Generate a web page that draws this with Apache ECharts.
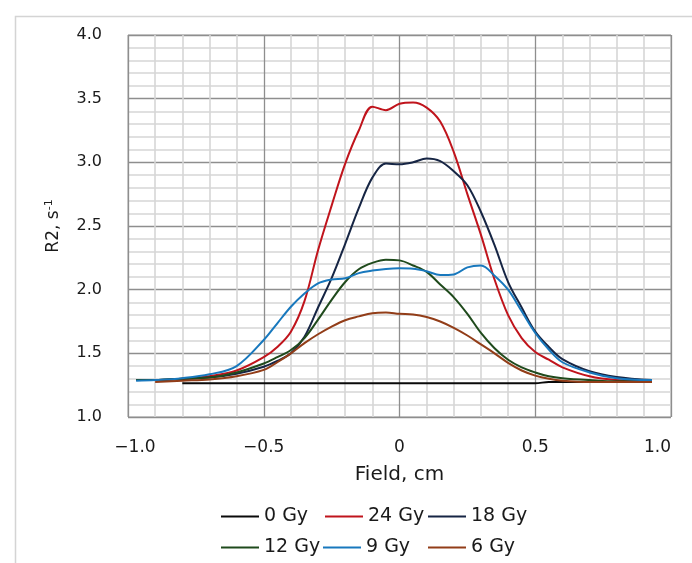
<!DOCTYPE html>
<html>
<head>
<meta charset="utf-8">
<script src="https://cdn.jsdelivr.net/npm/echarts@6/dist/echarts.min.js"></script>
<style>html,body{margin:0;padding:0;background:#fff;}#c{width:692px;height:563px;}</style>
</head>
<body>
<div id="c"></div>
<script>
// Field positions (cm)
var xs = [-0.97, -0.9, -0.8, -0.7, -0.6, -0.5, -0.45, -0.4, -0.35, -0.3, -0.25, -0.2, -0.15, -0.1, -0.05, 0, 0.05, 0.1, 0.15, 0.2, 0.25, 0.3, 0.35, 0.4, 0.45, 0.5, 0.55, 0.6, 0.7, 0.8, 0.93];
// R2 values (s^-1) per dose
var gy0  = [null, null, 1.265, 1.265, 1.265, 1.265, 1.265, 1.265, 1.265, 1.265, 1.265, 1.265, 1.265, 1.265, 1.265, 1.265, 1.265, 1.265, 1.265, 1.265, 1.265, 1.265, 1.265, 1.265, 1.265, 1.265, 1.275, 1.275, 1.275, 1.275, 1.28];
var gy24 = [1.29, 1.29, 1.30, 1.32, 1.365, 1.47, 1.55, 1.67, 1.91, 2.31, 2.66, 2.99, 3.25, 3.437, 3.41, 3.46, 3.47, 3.43, 3.32, 3.08, 2.75, 2.43, 2.08, 1.80, 1.62, 1.51, 1.45, 1.39, 1.32, 1.29, 1.28];
var gy18 = [1.29, 1.29, 1.30, 1.31, 1.34, 1.395, 1.44, 1.50, 1.63, 1.86, 2.09, 2.36, 2.64, 2.88, 2.99, 2.985, 3.00, 3.03, 3.01, 2.93, 2.82, 2.61, 2.35, 2.06, 1.86, 1.67, 1.55, 1.455, 1.36, 1.315, 1.29];
var gy12 = [1.29, 1.29, 1.30, 1.31, 1.35, 1.42, 1.47, 1.526, 1.62, 1.765, 1.92, 2.06, 2.16, 2.21, 2.235, 2.23, 2.19, 2.14, 2.04, 1.94, 1.81, 1.66, 1.54, 1.45, 1.39, 1.35, 1.32, 1.305, 1.29, 1.28, 1.28];
var gy9  = [1.285, 1.29, 1.305, 1.335, 1.40, 1.605, 1.736, 1.866, 1.97, 2.05, 2.08, 2.09, 2.13, 2.15, 2.163, 2.168, 2.165, 2.145, 2.115, 2.12, 2.175, 2.19, 2.11, 2.0, 1.83, 1.66, 1.53, 1.43, 1.35, 1.305, 1.29];
var gy6  = [null, 1.275, 1.285, 1.295, 1.32, 1.37, 1.43, 1.50, 1.58, 1.65, 1.71, 1.76, 1.79, 1.815, 1.82, 1.81, 1.805, 1.785, 1.75, 1.70, 1.64, 1.57, 1.50, 1.425, 1.365, 1.325, 1.30, 1.285, 1.275, 1.275, 1.275];

var seriesNames = ['0 Gy', '24 Gy', '18 Gy', '12 Gy', '9 Gy', '6 Gy'];
var seriesValues = [gy0, gy24, gy18, gy12, gy9, gy6];
var seriesColors = ['#0a0a0a', '#c0141c', '#162544', '#1f4a1c', '#1878bd', '#923d18'];

var xTicks = [-1.0, -0.5, 0, 0.5, 1.0];
var yTicks = [1.0, 1.5, 2.0, 2.5, 3.0, 3.5, 4.0];

// legend layout (two rows, three columns)
var legendLayout = [
  {left: 221, top: 507}, {left: 325, top: 507}, {left: 428, top: 507},
  {left: 221, top: 538}, {left: 323, top: 538}, {left: 428, top: 538}
];
var legendOrder = ['0 Gy', '24 Gy', '18 Gy', '12 Gy', '9 Gy', '6 Gy'];

var FONT = 'DejaVu Sans';

function pairs(vals) {
  var out = [];
  for (var i = 0; i < xs.length; i++) {
    if (vals[i] !== null) out.push([xs[i], vals[i]]);
  }
  return out;
}

var series = seriesNames.map(function (n, i) {
  return {
    name: n,
    type: 'line',
    data: pairs(seriesValues[i]),
    showSymbol: false,
    smooth: 0.35,
    lineStyle: {width: 2, color: seriesColors[i]},
    itemStyle: {color: seriesColors[i]},
    emphasis: {disabled: true},
    z: 2 + i
  };
});

var legends = legendOrder.map(function (n, i) {
  return {
    data: [n],
    left: legendLayout[i].left,
    top: legendLayout[i].top,
    padding: 0,
    icon: 'rect',
    itemWidth: 38,
    itemHeight: 2,
    selectedMode: false,
    textStyle: {fontFamily: FONT, fontSize: 19, color: '#1a1a1a'}
  };
});

var chart = echarts.init(document.getElementById('c'), null, {renderer: 'canvas'});
chart.setOption({
  animation: false,
  backgroundColor: '#fff',
  graphic: [{
    type: 'rect', left: 13, top: 14,
    shape: {width: 720, height: 600},
    style: {fill: 'none', stroke: '#d4d4d4', lineWidth: 1.5},
    silent: true, z: 0
  }],
  grid: {left: 128, right: 21, top: 35, bottom: 146, show: true, borderColor: '#a0a0a0', borderWidth: 1},
  legend: legends,
  xAxis: {
    type: 'value', min: xTicks[0], max: xTicks[xTicks.length - 1], interval: 0.5,
    name: 'Field, cm', nameLocation: 'middle', nameGap: 48,
    nameTextStyle: {fontFamily: FONT, fontSize: 20, color: '#1a1a1a'},
    axisLine: {show: false}, axisTick: {show: false},
    axisLabel: {
      fontFamily: FONT, fontSize: 17, color: '#1a1a1a', margin: 22,
      alignMaxLabel: 'right',
      formatter: function (v) {
        if (v === 0) return '0';
        var s = v.toFixed(1).replace('-', '\u2212');
        if (v === xTicks[0]) return '{m|' + s + '}';
        return s;
      },
      rich: {m: {fontFamily: FONT, fontSize: 17, color: '#1a1a1a', padding: [0, 0, 0, 14]}}
    },
    splitLine: {show: true, lineStyle: {color: '#8e8e8e', width: 1.3}},
    minorTick: {show: false, splitNumber: 5},
    minorSplitLine: {show: true, lineStyle: {color: '#d6d6d6', width: 1.6}}
  },
  yAxis: {
    type: 'value', min: yTicks[0], max: yTicks[yTicks.length - 1], interval: 0.5,
    name: 'R2, s{sup|-1}', nameLocation: 'middle', nameGap: 64,
    nameTextStyle: {fontFamily: FONT, fontSize: 17, color: '#1a1a1a',
      rich: {sup: {fontFamily: FONT, fontSize: 11, color: '#1a1a1a', padding: [0, 0, 9, 0]}}},
    axisLine: {show: false}, axisTick: {show: false},
    axisLabel: {
      fontFamily: FONT, fontSize: 16, color: '#1a1a1a', margin: 26,
      formatter: function (v) { return v.toFixed(1); }
    },
    splitLine: {show: true, lineStyle: {color: '#8e8e8e', width: 1.3}},
    minorTick: {show: false, splitNumber: 5},
    minorSplitLine: {show: true, lineStyle: {color: '#d6d6d6', width: 1.6}}
  },
  series: series
});
</script>
</body>
</html>
